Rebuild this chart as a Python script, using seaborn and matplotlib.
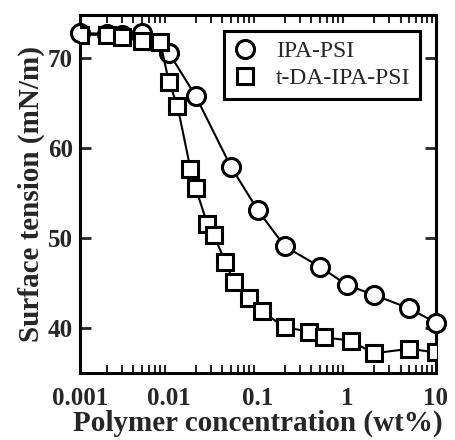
import matplotlib
matplotlib.use("Agg")
import matplotlib.pyplot as plt
from matplotlib.lines import Line2D
from matplotlib.ticker import LogLocator, NullFormatter, FixedLocator, FixedFormatter
import seaborn as sns
import pandas as pd

# Data
ipa_x = [0.001, 0.002, 0.003, 0.005, 0.01, 0.02, 0.05, 0.1, 0.2, 0.5, 1, 2, 5, 10]
ipa_y = [72.8, 72.7, 72.6, 72.8, 70.6, 65.8, 57.9, 53.1, 49.1, 46.8, 44.8, 43.7, 42.2, 40.6]

tda_x = [0.001, 0.002, 0.003, 0.005, 0.008, 0.01, 0.0125, 0.0175, 0.02, 0.027, 0.032,
         0.043, 0.054, 0.08, 0.11, 0.2, 0.38, 0.55, 1.1, 2, 5, 10]
tda_y = [72.6, 72.6, 72.3, 71.9, 71.8, 67.4, 64.7, 57.7, 55.6, 51.6, 50.3,
         47.4, 45.1, 43.3, 41.9, 40.1, 39.6, 39.0, 38.6, 37.2, 37.7, 37.3]

series_names = ["IPA-PSI", "t-DA-IPA-PSI"]
x_ticks = [0.001, 0.01, 0.1, 1, 10]
x_tick_labels = ["0.001", "0.01", "0.1", "1", "10"]
y_ticks = [40, 50, 60, 70]

sns.set_style("ticks")
plt.rcParams['font.family'] = ['Liberation Serif', 'DejaVu Serif']
plt.rcParams['font.weight'] = 'bold'

fig = plt.figure(figsize=(4.56, 4.40), dpi=100)
ax = fig.add_axes([0.175, 0.152, 0.781, 0.814])

df1 = pd.DataFrame({"x": ipa_x, "y": ipa_y})
df2 = pd.DataFrame({"x": tda_x, "y": tda_y})

sns.lineplot(data=df1, x="x", y="y", ax=ax, color="black", lw=1.5,
             marker="o", markersize=13, markerfacecolor="white",
             markeredgecolor="black", markeredgewidth=2.2, clip_on=False, zorder=3)
sns.lineplot(data=df2, x="x", y="y", ax=ax, color="black", lw=1.5,
             marker="s", markersize=11.5, markerfacecolor="white",
             markeredgecolor="black", markeredgewidth=2.2, zorder=3)

ax.set_xscale("log")
ax.set_xlim(0.001, 10)
ax.set_ylim(35, 74.8)

ax.xaxis.set_major_locator(FixedLocator(x_ticks))
ax.xaxis.set_major_formatter(FixedFormatter(x_tick_labels))
ax.xaxis.set_minor_locator(LogLocator(base=10, subs=range(2, 10), numticks=20))
ax.xaxis.set_minor_formatter(NullFormatter())
ax.set_yticks(y_ticks)

ax.tick_params(axis="both", which="major", direction="in", length=8, width=2,
               top=True, right=True, labelsize=18, pad=5)
ax.tick_params(axis="x", which="major", length=0, pad=10)
ax.tick_params(axis="x", which="minor", direction="in", length=6, width=1.5,
               top=True, bottom=True)
for lab in ax.get_xticklabels() + ax.get_yticklabels():
    lab.set_fontweight("bold")

for s in ax.spines.values():
    s.set_linewidth(2.2)
    s.set_color("black")

ax.set_xlabel("Polymer concentration (wt%)", fontsize=21, fontweight="bold", labelpad=0)
ax.set_ylabel("Surface tension (mN/m)", fontsize=21, fontweight="bold", labelpad=2)

handles = [
    Line2D([], [], ls="none", marker="o", markersize=13, mfc="white", mec="black", mew=2.2),
    Line2D([], [], ls="none", marker="s", markersize=11.5, mfc="white", mec="black", mew=2.2),
]
leg = ax.legend(handles, series_names, loc="upper right", bbox_to_anchor=(0.955, 0.955),
                fancybox=False, framealpha=1, edgecolor="black", fontsize=17,
                handletextpad=0.8, borderpad=0.4, labelspacing=0.25, handlelength=1.0,
                borderaxespad=0)
leg.get_frame().set_linewidth(2.2)
for t in leg.get_texts():
    t.set_fontweight("normal")

fig.savefig("out.png", dpi=100)
